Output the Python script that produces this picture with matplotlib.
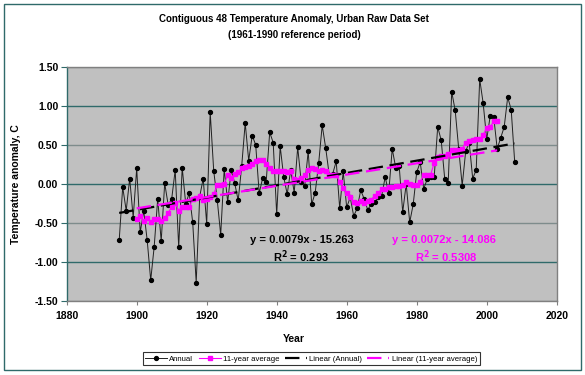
import numpy as np
import matplotlib
matplotlib.use('Agg')
import matplotlib.pyplot as plt
from matplotlib.patches import Rectangle

plt.rcParams['font.family'] = ['Liberation Sans', 'DejaVu Sans']
plt.rcParams['font.weight'] = 'bold'

# annual anomalies, 1895-2008
annual_start = 1895
annual = [-0.72, -0.04, -0.34, 0.07, -0.43, 0.20, -0.62, -0.34, -0.72, -1.23,
          -0.80, -0.19, -0.73, 0.01, -0.27, -0.19, 0.18, -0.81, 0.21, -0.25,
          -0.12, -0.49, -1.26, -0.16, 0.07, -0.51, 0.92, 0.17, -0.20, -0.65,
          0.19, -0.23, 0.18, 0.01, -0.21, 0.23, 0.78, 0.30, 0.62, 0.50,
          -0.12, 0.08, 0.03, 0.66, 0.53, -0.39, 0.48, 0.09, -0.13, 0.18,
          -0.11, 0.47, 0.03, -0.03, 0.42, -0.26, -0.11, 0.27, 0.75, 0.46,
          0.12, 0.13, 0.29, -0.31, 0.16, -0.30, -0.17, -0.41, -0.31, -0.08,
          -0.19, -0.33, -0.26, -0.23, -0.17, -0.15, 0.09, -0.12, 0.45, 0.21,
          0.23, -0.36, 0.00, -0.49, -0.26, 0.15, 0.28, -0.06, 0.06, 0.09,
          0.09, 0.73, 0.56, 0.07, 0.01, 1.18, 0.94, 0.45, -0.02, 0.42,
          0.53, 0.07, 0.18, 1.34, 1.03, 0.57, 0.87, 0.86, 0.45, 0.59,
          0.73, 1.11, 0.95, 0.28]

# 11-year average, 1900-2003
avg_start = 1900
avg11 = [-0.45, -0.41, -0.47, -0.44, -0.48, -0.45, -0.45, -0.47, -0.43, -0.37,
         -0.29, -0.24, -0.34, -0.30, -0.29, -0.30, -0.19, -0.18, -0.15, -0.21,
         -0.19, -0.17, -0.13, -0.01, -0.01, 0.00, 0.11, 0.08, 0.13, 0.15,
         0.20, 0.22, 0.23, 0.26, 0.30, 0.31, 0.31, 0.25, 0.21, 0.17,
         0.17, 0.17, 0.17, 0.15, 0.16, 0.06, 0.05, 0.08, 0.11, 0.18,
         0.20, 0.19, 0.17, 0.18, 0.17, 0.12, 0.12, 0.11, 0.03, -0.05,
         -0.12, -0.16, -0.23, -0.24, -0.22, -0.24, -0.22, -0.20, -0.15, -0.11,
         -0.07, -0.06, -0.04, -0.04, -0.03, -0.03, -0.01, 0.02, 0.00, -0.01,
         -0.01, 0.03, 0.11, 0.11, 0.12, 0.27, 0.35, 0.36, 0.36, 0.38,
         0.43, 0.43, 0.44, 0.45, 0.53, 0.55, 0.56, 0.57, 0.57, 0.63,
         0.72, 0.73, 0.80, 0.80]

years = np.arange(annual_start, annual_start + len(annual))
years_avg = np.arange(avg_start, avg_start + len(avg11))

magenta = '#FF00FF'
teal = '#2F6A6A'

fig = plt.figure(figsize=(5.85, 3.75), dpi=100)
ax = fig.add_axes([66.7/585, 1-301.3/375, 490/585, 234.6/375])
ax.set_facecolor('#C0C0C0')

# linear trendlines (least squares, like Excel)
k1 = np.polyfit(years, annual, 1)
k2 = np.polyfit(years_avg, avg11, 1)

ax.plot(years, annual, color='#202020', lw=0.7, marker='o', ms=2.8,
        mfc='black', mec='black', label='Annual', zorder=3)
ax.plot(years_avg, avg11, color=magenta, lw=0.8, marker='s', ms=3.2,
        mfc=magenta, mec=magenta, label='11-year average', zorder=4)
ax.plot(years, np.polyval(k1, years), color='black', lw=1.6,
        dashes=(6.5, 3), label='Linear (Annual)', zorder=5)
ax.plot(years_avg, np.polyval(k2, years_avg), color=magenta, lw=1.6,
        dashes=(6.5, 3), label='Linear (11-year average)', zorder=5)

ax.set_xlim(1880, 2020)
ax.set_ylim(-1.5, 1.5)
ax.set_xticks(np.arange(1880, 2021, 20))
ax.set_yticks(np.arange(-1.5, 1.51, 0.5))
ax.set_yticklabels(['%.2f' % v for v in np.arange(-1.5, 1.51, 0.5)])
ax.tick_params(axis='both', labelsize=7.5, direction='out')
ax.tick_params(axis='x', colors='#808080', length=3, labelcolor='black', pad=4)
ax.tick_params(axis='y', colors=teal, length=4, labelcolor='black', pad=2)

ax.grid(axis='y', lw=1, zorder=0)
ax.set_axisbelow(True)
for v, g in zip(np.arange(-1.5, 1.51, 0.5), ax.get_ygridlines()):
    g.set_color(teal if abs(v - round(v)) < 1e-6 else '#7E8C8C')

for s in ['top', 'right', 'bottom']:
    ax.spines[s].set_color('#808080')
    ax.spines[s].set_linewidth(1)
ax.spines['left'].set_color(teal)
ax.spines['left'].set_linewidth(1)

ax.text(1947.3, -0.72, 'y = 0.0079x - 15.263', ha='center', va='center',
        fontsize=8, fontweight='bold', color='black')
ax.text(1946.8, -0.93, 'R$^2$ = 0.293', ha='center', va='center',
        fontsize=8, fontweight='bold', color='black')
ax.text(1987.8, -0.72, 'y = 0.0072x - 14.086', ha='center', va='center',
        fontsize=8, fontweight='bold', color=magenta)
ax.text(1988.4, -0.93, 'R$^2$ = 0.5308', ha='center', va='center',
        fontsize=8, fontweight='bold', color=magenta)

fig.text(0.503, 0.949, 'Contiguous 48 Temperature Anomaly, Urban Raw Data Set',
         ha='center', va='center', fontsize=7, fontweight='bold')
fig.text(0.503, 0.907, '(1961-1990 reference period)',
         ha='center', va='center', fontsize=7, fontweight='bold')
fig.text(0.027, 0.509, 'Temperature anomaly, C', rotation=90,
         ha='center', va='center', fontsize=7.5, fontweight='bold')
fig.text(0.503, 0.096, 'Year', ha='center', va='center',
         fontsize=7.5, fontweight='bold')

leg = fig.legend(loc='center', bbox_to_anchor=(0.532, 0.043), ncol=4,
                 fontsize=5.6, frameon=True, fancybox=False, handlelength=2.8,
                 handletextpad=0.3, columnspacing=0.7, borderpad=0.35)
leg.get_frame().set_edgecolor('black')
leg.get_frame().set_linewidth(0.8)
for t in leg.get_texts():
    t.set_fontweight('normal')

fig.patches.append(Rectangle((4/585, 1-370/375), 577/585, 366/375,
                             transform=fig.transFigure, fill=False,
                             edgecolor=teal, lw=1))

fig.savefig('out.png', dpi=100)
